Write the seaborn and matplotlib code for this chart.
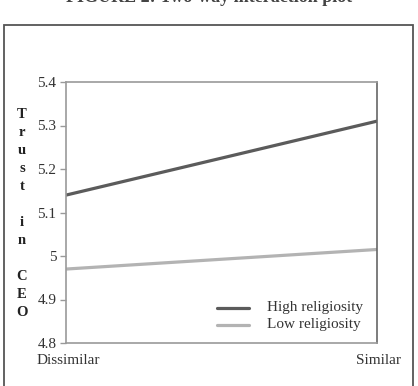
import pandas as pd
import numpy as np
import matplotlib
matplotlib.use("Agg")
import matplotlib.pyplot as plt
import matplotlib.patches as patches
import matplotlib.ticker as mticker
import seaborn as sns

# Datos
condiciones = ["Dissimilar", "Similar"]
alta_religiosidad = [5.14, 5.31]
baja_religiosidad = [4.97, 5.015]
series = ["High religiosity", "Low religiosity"]
yticks = [4.8, 4.9, 5.0, 5.1, 5.2, 5.3, 5.4]

data = pd.DataFrame({
    "x": [0, 1, 0, 1],
    "valor": alta_religiosidad + baja_religiosidad,
    "grupo": [series[0]] * 2 + [series[1]] * 2,
})

sns.set_style("white")
plt.rcParams["font.family"] = ["Liberation Serif", "DejaVu Serif"]
texto = "#333333"

fig = plt.figure(figsize=(4.18, 3.86), dpi=100)
ax = fig.add_axes([66 / 418, 1 - 343 / 386, (377 - 66) / 418, (343 - 82) / 386])

sns.lineplot(data=data, x="x", y="valor", hue="grupo", ax=ax,
             palette=["#5b5b5b", "#b3b3b3"], linewidth=2.3, legend=False)

ax.set_xlim(0, 1)
ax.set_ylim(4.8, 5.4)
ax.set_yticks(yticks)
ax.yaxis.set_major_formatter(mticker.FormatStrFormatter("%g"))
ax.set_xticks([])
ax.set_xlabel("")
ax.set_ylabel("")
ax.tick_params(axis="y", length=4, width=1, color="#999999", labelsize=11,
               labelcolor=texto, pad=3, left=True, direction="out")

for lado in ["left", "bottom", "top"]:
    ax.spines[lado].set_color("#9a9a9a")
    ax.spines[lado].set_linewidth(1.2)
ax.spines["right"].set_color("#666666")
ax.spines["right"].set_linewidth(1.2)

# Leyenda manual sin marco
for i, (nombre, color) in enumerate(zip(series, ["#5b5b5b", "#b3b3b3"])):
    yl = 0.135 - i * 0.066
    ax.plot([0.487, 0.59], [yl, yl], transform=ax.transAxes, color=color, lw=2.3)
    ax.text(0.647, yl, nombre, transform=ax.transAxes, va="center", ha="left",
            fontsize=11, color=texto)

# Etiquetas del eje x
fig.text(37 / 418, 1 - 361 / 386, condiciones[0], ha="left", va="center", fontsize=11, color=texto)
fig.text(401 / 418, 1 - 361 / 386, condiciones[1], ha="right", va="center", fontsize=11, color=texto)

# Etiqueta vertical del eje y
fig.text(22 / 418, 1 - 214 / 386, "T\nr\nu\ns\nt\n\ni\nn\n\nC\nE\nO", ha="center", va="center",
         fontsize=10.5, fontweight="bold", linespacing=1.5, color="#222222")

# Marco exterior
marco = patches.Rectangle((4 / 418, -0.05), (413 - 4) / 418, 0.05 + 1 - 25 / 386,
                          transform=fig.transFigure, fill=False, edgecolor="#555555",
                          linewidth=1.3, clip_on=False)
fig.patches.append(marco)

# Título recortado en la parte superior
fig.text(0.5, 1 - 2 / 386, "FIGURE 2: Two-way interaction plot", ha="center", va="baseline",
         fontsize=13, fontweight="bold", color="#444444")

fig.savefig("out.png", dpi=100)
